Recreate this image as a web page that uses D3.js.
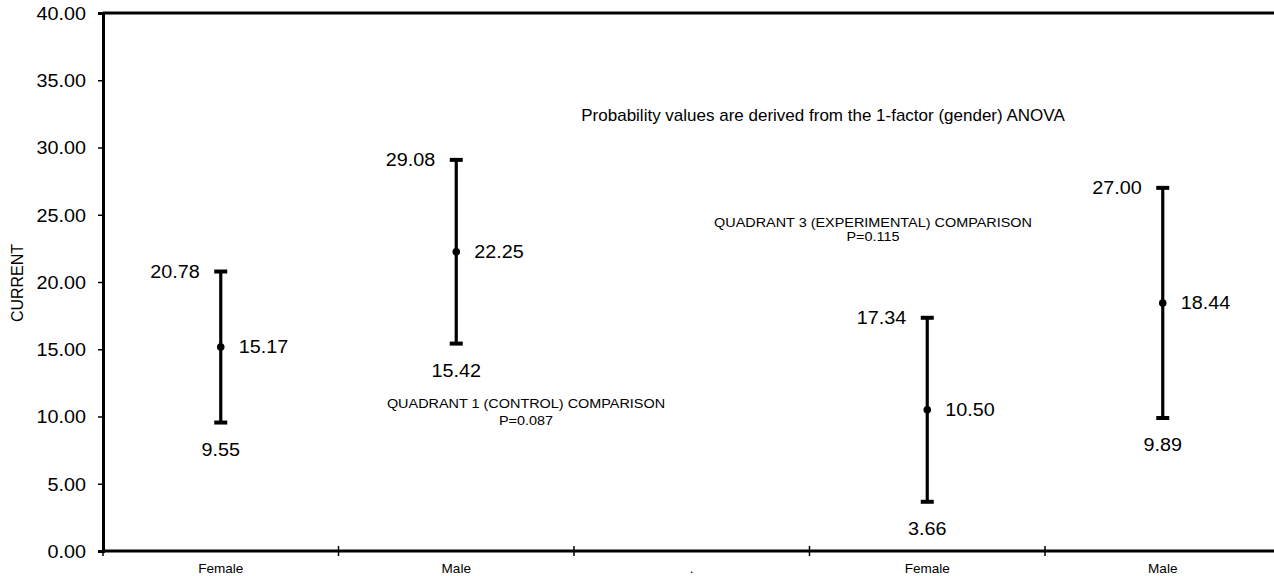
<!DOCTYPE html>
<html>
<head>
<meta charset="utf-8">
<script src="https://cdn.jsdelivr.net/npm/d3@7"></script>
<style>
  html,body{margin:0;padding:0;background:#fff;}
  svg{display:block;font-family:"Liberation Sans",Arial,sans-serif;}
</style>
</head>
<body>
<svg id="svg" width="1274" height="576"></svg>
<script>
// categories along x (blank middle slot is shown as ".")
const categories = ["Female","Male",".","Female","Male"];
// error bar groups: which slot, mean, upper and lower bounds
const slots = [0,1,3,4];
const means = [15.17,22.25,10.50,18.44];
const uppers = [20.78,29.08,17.34,27.00];
const lowers = [9.55,15.42,3.66,9.89];
const yTicks = [0,5,10,15,20,25,30,35,40];

const notes = [
  {text:"Probability values are derived from the 1-factor (gender) ANOVA", cx:823, y:32.4, size:17, sx:1.0},
  {text:"QUADRANT 3 (EXPERIMENTAL) COMPARISON", cx:873, y:24.46, size:13, sx:1.11},
  {text:"P=0.115", cx:873, y:23.42, size:13, sx:1.11},
  {text:"QUADRANT 1 (CONTROL) COMPARISON", cx:526, y:11.0, size:13, sx:1.11},
  {text:"P=0.087", cx:526, y:9.74, size:13, sx:1.11}
];

// text drawn with a horizontal stretch around its anchor point
function addText(parent, px, py, str, size, anchor, sx){
  return parent.append("text")
    .attr("transform",`translate(${px},${py}) scale(${sx},1)`)
    .attr("dy","0.35em")
    .attr("text-anchor",anchor)
    .attr("font-size",size)
    .attr("fill","#000")
    .text(str);
}

(function main(){
  const svg = d3.select("#svg");
  const mLeft = 103, mTop = 13, mBottom = 551;
  const bandW = 235.5;
  const numSize = 18.5, numSx = 1.07;

  const x = d3.scaleBand().domain(d3.range(categories.length))
    .range([mLeft, mLeft + bandW*categories.length]).padding(0);
  const y = d3.scaleLinear().domain([0,40]).range([mBottom, mTop]);

  // top border
  svg.append("line")
    .attr("x1", mLeft).attr("x2", 1274).attr("y1", y(40)).attr("y2", y(40))
    .attr("stroke","#000").attr("stroke-width",3);

  // y axis
  const yAxis = svg.append("g").attr("transform",`translate(${mLeft},0)`)
    .call(d3.axisLeft(y).tickValues(yTicks).tickFormat(d3.format(".2f")).tickSize(5).tickPadding(10));
  yAxis.select(".domain").attr("stroke-width",3);
  yAxis.selectAll(".tick line").attr("stroke-width",1.5);
  yAxis.selectAll(".tick text").remove();
  yAxis.selectAll(".tick").each(function(d){
    addText(d3.select(this), -17, 0, d3.format(".2f")(d), numSize, "end", numSx);
  });

  // x axis
  const xAxis = svg.append("g").attr("transform",`translate(0,${mBottom})`);
  xAxis.append("line").attr("x1",mLeft).attr("x2",1274).attr("y1",0).attr("y2",0)
    .attr("stroke","#000").attr("stroke-width",3);
  d3.range(categories.length).forEach(i=>{
    const tx = x(i);
    xAxis.append("line").attr("x1",tx).attr("x2",tx).attr("y1",-5).attr("y2",5)
      .attr("stroke","#000").attr("stroke-width",1.5);
    addText(xAxis, tx + x.bandwidth()/2, 18, categories[i], 12.5, "middle", 1.085);
  });

  // y title
  svg.append("text")
    .attr("transform","translate(23,283) rotate(-90)")
    .attr("text-anchor","middle")
    .attr("font-size",16)
    .text("CURRENT");

  // error bars
  const bars = svg.append("g");
  slots.forEach((s,i)=>{
    const cx = x(s)+x.bandwidth()/2;
    const g = bars.append("g");
    g.append("line").attr("x1",cx).attr("x2",cx).attr("y1",y(uppers[i])).attr("y2",y(lowers[i]))
      .attr("stroke","#000").attr("stroke-width",3.2);
    [uppers[i],lowers[i]].forEach(v=>{
      g.append("line").attr("x1",cx-6.5).attr("x2",cx+6.5).attr("y1",y(v)).attr("y2",y(v))
        .attr("stroke","#000").attr("stroke-width",4);
    });
    g.append("circle").attr("cx",cx).attr("cy",y(means[i])).attr("r",3.8).attr("fill","#000");

    addText(g, cx-21, y(uppers[i]), uppers[i].toFixed(2), numSize, "end", numSx);
    addText(g, cx+18, y(means[i]), means[i].toFixed(2), numSize, "start", numSx);
    addText(g, cx, y(lowers[i])+27, lowers[i].toFixed(2), numSize, "middle", numSx);
  });

  // annotations
  const ng = svg.append("g");
  notes.forEach(n=> addText(ng, n.cx, y(n.y), n.text, n.size, "middle", n.sx));
})();
</script>
</body>
</html>
